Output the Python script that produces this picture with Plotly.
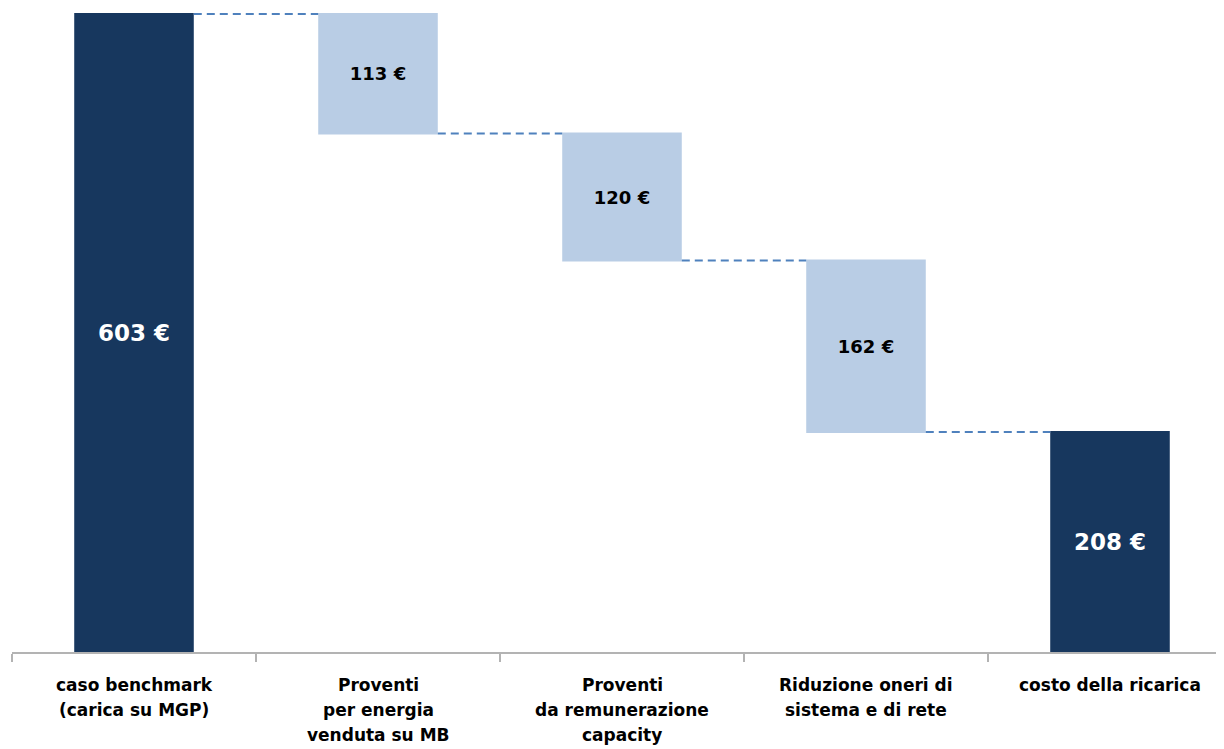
import plotly.graph_objects as go

# ---- data ----
categories = [
    "caso benchmark\n(carica su MGP)",
    "Proventi\nper energia\nvenduta su MB",
    "Proventi\nda remunerazione\ncapacity",
    "Riduzione oneri di\nsistema e di rete",
    "costo della ricarica",
]
measures = ["absolute", "relative", "relative", "relative", "total"]
values = [603, -113, -120, -162, 208]
value_labels = ["603 €", "113 €", "120 €", "162 €", "208 €"]

# ---- styles ----
DARK = "#17375E"
LIGHT = "#B9CDE5"
FONT = "DejaVu Sans"
W, H = 1224, 741          # page body adds an 8px margin
L, R, T, B = 4, 0, 0, 97

keys = [c.replace("\n", " ") for c in categories]
is_total = [m != "relative" for m in measures]

fig = go.Figure(
    go.Waterfall(
        x=keys,
        y=values,
        measure=measures,
        text=value_labels,
        textposition="inside",
        insidetextanchor="middle",
        textfont=dict(
            family=FONT,
            weight="bold",
            color=["#FFFFFF" if t else "#000000" for t in is_total],
            size=[23 if t else 18 for t in is_total],
        ),
        width=0.49,
        totals=dict(marker=dict(color=DARK)),
        increasing=dict(marker=dict(color=DARK)),
        decreasing=dict(marker=dict(color=LIGHT)),
        connector=dict(mode="between", line=dict(color="#4F81BD", width=2, dash="8px,5px")),
        hoverinfo="skip",
    )
)

annotations = []
for k, lab in zip(keys, categories):
    for i, line in enumerate(lab.split("\n")):
        annotations.append(
            dict(
                x=k, xref="x", y=0, yref="paper",
                text=line, showarrow=False,
                xanchor="center", yanchor="middle",
                yshift=-(33 + 25 * i),
                font=dict(family=FONT, size=17, color="#000000", weight="bold"),
            )
        )

fig.update_layout(
    width=W, height=H,
    margin=dict(l=L, r=R, t=T, b=B, pad=0),
    paper_bgcolor="white", plot_bgcolor="white",
    showlegend=False,
    annotations=annotations,
    xaxis=dict(
        type="category",
        range=[-0.5, 4.5],
        showticklabels=False,
        showgrid=False, zeroline=False,
        showline=True, linecolor="#B3B3B3", linewidth=1.5,
        ticks="outside", tickson="boundaries", ticklen=8,
        tickcolor="#B3B3B3", tickwidth=1.5,
    ),
    yaxis=dict(
        range=[0, 608.7],
        visible=False, showgrid=False, zeroline=False,
    ),
)

fig.write_html("out.html")
